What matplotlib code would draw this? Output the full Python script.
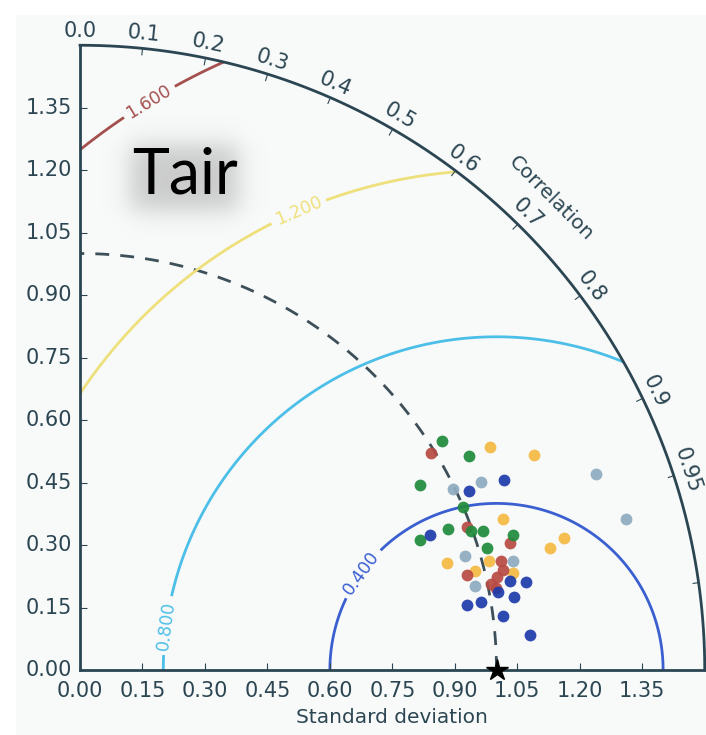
import numpy as np
import matplotlib
matplotlib.use("Agg")
import matplotlib.pyplot as plt
from matplotlib.patches import Rectangle
from matplotlib.projections import PolarAxes
import mpl_toolkits.axisartist.floating_axes as FA
import mpl_toolkits.axisartist.grid_finder as GF

# ---- data -------------------------------------------------------------
ref_std = 1.0
std_max = 1.5
corr_ticks = [0.0, 0.1, 0.2, 0.3, 0.4, 0.5, 0.6, 0.7, 0.8, 0.9, 0.95, 0.99]
std_ticks = [0.00, 0.15, 0.30, 0.45, 0.60, 0.75, 0.90, 1.05, 1.20, 1.35]
rms_levels = [0.4, 0.8, 1.2, 1.6]

green_std = [1.029, 1.066, 0.929, 1.000, 0.945, 0.997, 1.023, 1.089, 0.875, 1.021]
green_corr = [0.845, 0.876, 0.878, 0.920, 0.934, 0.942, 0.945, 0.955, 0.934, 0.958]

red_std = [0.991, 0.990, 1.076, 1.044, 0.956, 1.026, 1.007, 1.017, 1.045]
red_corr = [0.851, 0.938, 0.959, 0.968, 0.971, 0.976, 0.979, 0.981, 0.973]

yellow_std = [1.121, 1.207, 1.079, 1.204, 1.166, 0.918, 1.016, 0.977, 1.066]
yellow_corr = [0.879, 0.904, 0.942, 0.965, 0.968, 0.960, 0.966, 0.970, 0.976]

grey_std = [1.063, 0.995, 1.326, 1.361, 0.963, 1.072, 0.970]
grey_corr = [0.905, 0.900, 0.935, 0.964, 0.959, 0.970, 0.978]

blue_std = [1.116, 1.028, 0.901, 1.054, 1.091, 1.022, 1.057, 0.943, 0.977, 1.025, 1.083]
blue_corr = [0.913, 0.908, 0.933, 0.979, 0.981, 0.983, 0.986, 0.986, 0.986, 0.992, 0.997]

# ---- style ------------------------------------------------------------
axis_col = "#2b4652"
rms_colors = ["#3a5fd0", "#4cbfe8", "#eee07a", "#a4504e"]
groups = [
    (grey_std, grey_corr, "#8eabbf"),
    (yellow_std, yellow_corr, "#f4b942"),
    (red_std, red_corr, "#b84a43"),
    (green_std, green_corr, "#1f8a3b"),
    (blue_std, blue_corr, "#1d3aaa"),
]

W, H = 706, 735
fig = plt.figure(figsize=(W / 100, H / 100), dpi=100, facecolor="white")
fig.patches.append(Rectangle((16 / W, 0), 1, 1 - 15 / H, transform=fig.transFigure,
                             facecolor="#f8f9f9", edgecolor="none", zorder=-10))

tr = PolarAxes.PolarTransform(apply_theta_transforms=False)
tlocs = np.arccos(corr_ticks)
gl1 = GF.FixedLocator(tlocs)
tf1 = GF.DictFormatter(dict(zip(tlocs, [str(c) for c in corr_ticks])))
slocs = np.array(std_ticks)
gl2 = GF.FixedLocator(slocs)
tf2 = GF.DictFormatter(dict(zip(slocs, [f"{s:.2f}" for s in std_ticks])))
ghelper = FA.GridHelperCurveLinear(tr, extremes=(0, np.pi / 2, 0, std_max),
                                   grid_locator1=gl1, tick_formatter1=tf1,
                                   grid_locator2=gl2, tick_formatter2=tf2)

# floating axes pad their limits by 2 %, so the box is a bit wider than 1.5 units
scale = 416.5            # pixels per unit of standard deviation
span = 1.53 * scale
x0, y0 = 80, 670         # pixel position of the origin
pad = 0.015 * scale
ax = fig.add_axes([(x0 - pad) / W, (H - y0 - pad) / H, span / W, span / H],
                  axes_class=FA.FloatingAxes, grid_helper=ghelper)
ax.patch.set_alpha(0)

ax.axis["top"].set_axis_direction("bottom")
ax.axis["top"].toggle(ticklabels=True, label=True)
ax.axis["top"].major_ticklabels.set_axis_direction("top")
ax.axis["top"].label.set_axis_direction("top")
ax.axis["top"].label.set_text("Correlation")

ax.axis["left"].set_axis_direction("bottom")
ax.axis["left"].label.set_text("Standard deviation")

ax.axis["right"].set_axis_direction("top")
ax.axis["right"].toggle(ticklabels=True)
ax.axis["right"].major_ticklabels.set_axis_direction("left")

ax.axis["bottom"].set_visible(False)

for name in ["top", "left", "right"]:
    a = ax.axis[name]
    a.line.set_color(axis_col)
    a.line.set_linewidth(2.0)
    a.major_ticks.set_color(axis_col)
    a.major_ticks.set_ticksize(5)
    a.major_ticks.set_linewidth(1.5)
    a.major_ticklabels.set_fontsize(15)
    a.major_ticklabels.set_color(axis_col)
    a.major_ticklabels.set_pad(6)
    a.label.set_fontsize(14.5)
    a.label.set_color(axis_col)
ax.axis["left"].major_ticklabels.set_pad(8)
ax.axis["left"].label.set_pad(8)
ax.axis["top"].label.set_pad(6)

aux = ax.get_aux_axes(tr)

# reference standard deviation arc and reference point
t = np.linspace(0, np.pi / 2, 200)
aux.plot(t, np.full_like(t, ref_std), ls=(0, (5, 4)), color="#3d4f59", lw=2.0, zorder=2)
aux.plot([0], [ref_std], marker="*", color="black", ms=16, ls="none",
         clip_on=False, zorder=10)

# centred RMS difference contours
rs, ts = np.meshgrid(np.linspace(0, std_max, 400), np.linspace(0, np.pi / 2, 400))
rms = np.sqrt(ref_std ** 2 + rs ** 2 - 2 * ref_std * rs * np.cos(ts))
cs = aux.contour(ts, rs, rms, levels=rms_levels, colors=rms_colors, linewidths=2.0)
label_spots = [(0.336, 0.713), (0.496, 0.227), (1.127, 1.221), (1.448, 1.372)]
aux.clabel(cs, inline=True, fontsize=12.5, fmt="%.3f", manual=label_spots)

# models
for s, c, col in groups:
    aux.plot(np.arccos(c), s, "o", color=col, ms=8.5, mec="none", alpha=0.92, zorder=5)

# variable name with soft grey glow
gax = fig.add_axes([100 / W, 1 - 240 / H, 170 / W, 125 / H])
gax.set_axis_off()
px = np.arange(100, 270)
py = np.arange(115, 240)
X, Y = np.meshgrid(px, py)
soft = 7.0
sx = 1 / (1 + np.exp(-(X - 130) / soft)) / (1 + np.exp((X - 238) / soft))
sy = 1 / (1 + np.exp(-(Y - 144) / soft)) / (1 + np.exp((Y - 210) / soft))
glow = np.zeros((len(py), len(px), 4))
glow[..., :3] = 0.55
glow[..., 3] = 0.42 * sx * sy
gax.imshow(glow, extent=(0, 1, 0, 1), aspect="auto", interpolation="bilinear")
fig.text(185 / W, 1 - 176 / H, "Tair", family="Lato", weight="normal", fontsize=45,
         color="black", ha="center", va="center")

fig.savefig("out.png", dpi=100, facecolor=fig.get_facecolor())
